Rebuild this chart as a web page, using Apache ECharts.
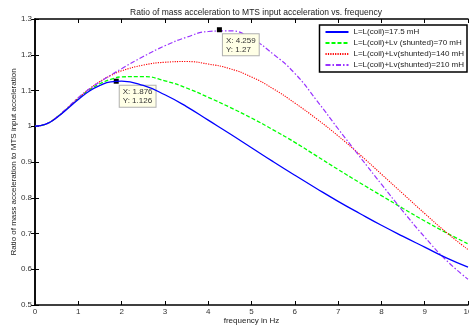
<!DOCTYPE html>
<html>
<head>
<meta charset="utf-8">
<script src="https://cdn.jsdelivr.net/npm/echarts@6/dist/echarts.min.js"></script>
<style>
  html, body { margin: 0; padding: 0; background: #fff; }
  #chart { width: 469px; height: 327px; }
</style>
</head>
<body>
<div id="chart"></div>
<script>
// frequency in Hz
let freq = [0, 0.25, 0.5, 0.75, 1, 1.25, 1.5, 1.75, 2, 2.5, 3, 3.5, 4, 4.5, 5, 5.5, 6, 6.5, 7, 7.5, 8, 8.5, 9, 9.5, 10];

let coil175 = [1.000, 1.006, 1.024, 1.049, 1.075, 1.098, 1.114, 1.124, 1.126, 1.114, 1.088, 1.055, 1.017, 0.979, 0.940, 0.901, 0.863, 0.826, 0.790, 0.756, 0.723, 0.692, 0.662, 0.632, 0.606];
let shunt70 = [1.000, 1.006, 1.025, 1.050, 1.077, 1.101, 1.119, 1.131, 1.138, 1.139, 1.127, 1.107, 1.081, 1.053, 1.023, 0.990, 0.955, 0.917, 0.879, 0.842, 0.806, 0.770, 0.735, 0.702, 0.671];
let shunt140 = [1.000, 1.006, 1.025, 1.051, 1.079, 1.104, 1.125, 1.142, 1.155, 1.171, 1.179, 1.181, 1.174, 1.161, 1.138, 1.105, 1.065, 1.021, 0.973, 0.921, 0.866, 0.811, 0.756, 0.703, 0.655];
let shunt210 = [1.000, 1.006, 1.025, 1.052, 1.080, 1.104, 1.124, 1.143, 1.161, 1.195, 1.225, 1.249, 1.265, 1.267, 1.245, 1.202, 1.148, 1.073, 0.993, 0.915, 0.838, 0.762, 0.690, 0.625, 0.572];

let names = ['L=L(coil)=17.5 mH', 'L=L(coil)+Lv (shunted)=70 mH', 'L=L(coil)+Lv(shunted)=140 mH', 'L=L(coil)+Lv(shunted)=210 mH'];

// data tips [x, y]
let tipBlue = [1.876, 1.126];
let tipPurple = [4.259, 1.27];

function pairs(ys) {
  let out = [];
  for (let i = 0; i < freq.length; i++) out.push([freq[i], ys[i]]);
  return out;
}

function dataTip(p) {
  return {
    symbol: 'rect',
    symbolSize: 5,
    silent: true,
    itemStyle: { color: '#000' },
    data: [{
      coord: p,
      label: {
        show: true,
        position: [6, 7],
        formatter: 'X: ' + p[0] + '\nY: ' + p[1],
        fontSize: 8,
        lineHeight: 9,
        color: '#333',
        fontFamily: 'Liberation Sans',
        backgroundColor: '#ffffe6',
        borderColor: '#b0b0b0',
        borderWidth: 1,
        padding: [2, 3, 1, 3]
      }
    }]
  };
}

let font = 'Liberation Sans';
let myChart = echarts.init(document.getElementById('chart'));

let tickStyle = { show: true, inside: true, length: 4, lineStyle: { color: '#000', width: 1 } };
let lineAxis = { show: true, lineStyle: { color: '#000', width: 1.5 } };

option = {
  backgroundColor: '#fff',
  animation: false,
  title: {
    text: 'Ratio of mass acceleration to MTS input acceleration vs. frequency',
    left: 251,
    textAlign: 'center',
    top: 3,
    textStyle: { fontSize: 8.5, fontWeight: 'normal', color: '#222', fontFamily: font }
  },
  legend: {
    data: names,
    orient: 'vertical',
    right: 2,
    top: 25,
    itemWidth: 23,
    itemHeight: 8,
    itemGap: 3,
    padding: [3, 3, 3, 5],
    borderColor: '#000',
    borderWidth: 1.5,
    backgroundColor: '#fff',
    itemStyle: { opacity: 0 },
    textStyle: { fontSize: 8, color: '#222', fontFamily: font }
  },
  grid: { left: 35, right: 1, top: 19, bottom: 22, outerBoundsMode: 'none' },
  xAxis: [
    {
      type: 'value', min: 0, max: 10, interval: 1,
      name: 'frequency in Hz', nameLocation: 'middle', nameGap: 12,
      nameMoveOverlap: false,
      nameTextStyle: { fontSize: 8, color: '#222', fontFamily: font },
      axisLine: lineAxis, axisTick: tickStyle,
      axisLabel: { fontSize: 8, color: '#333', margin: 3, fontFamily: font },
      splitLine: { show: false }
    },
    {
      type: 'value', min: 0, max: 10, interval: 1, position: 'top',
      axisLine: lineAxis, axisTick: tickStyle,
      axisLabel: { show: false }, splitLine: { show: false }
    }
  ],
  yAxis: [
    {
      type: 'value', min: 0.5, max: 1.3, interval: 0.1,
      name: 'Ratio of mass acceleration to MTS input acceleration',
      nameLocation: 'middle', nameGap: 17,
      nameMoveOverlap: false,
      nameTextStyle: { fontSize: 8, color: '#222', fontFamily: font },
      axisLine: lineAxis, axisTick: tickStyle,
      axisLabel: { fontSize: 8, color: '#333', margin: 3, fontFamily: font },
      splitLine: { show: false }
    },
    {
      type: 'value', min: 0.5, max: 1.3, interval: 0.1, position: 'right',
      axisLine: lineAxis, axisTick: tickStyle,
      axisLabel: { show: false }, splitLine: { show: false }
    }
  ],
  series: [
    {
      name: names[0], type: 'line', smooth: true, symbol: 'none',
      lineStyle: { color: '#0000ff', width: 1.3, type: 'solid' },
      itemStyle: { color: '#0000ff' },
      data: pairs(coil175),
      markPoint: dataTip(tipBlue),
      z: 5
    },
    {
      name: names[1], type: 'line', smooth: true, symbol: 'none',
      lineStyle: { color: '#00ff00', width: 1.3, type: [4, 2] },
      itemStyle: { color: '#00ff00' },
      data: pairs(shunt70)
    },
    {
      name: names[2], type: 'line', smooth: true, symbol: 'none',
      lineStyle: { color: '#ff0000', width: 1.1, type: [1.2, 1.2] },
      itemStyle: { color: '#ff0000' },
      data: pairs(shunt140)
    },
    {
      name: names[3], type: 'line', smooth: true, symbol: 'none',
      lineStyle: { color: '#9933ff', width: 1.2, type: [5, 2, 1.5, 2] },
      itemStyle: { color: '#9933ff' },
      data: pairs(shunt210),
      markPoint: dataTip(tipPurple)
    }
  ]
};
myChart.setOption(option);
</script>
</body>
</html>
